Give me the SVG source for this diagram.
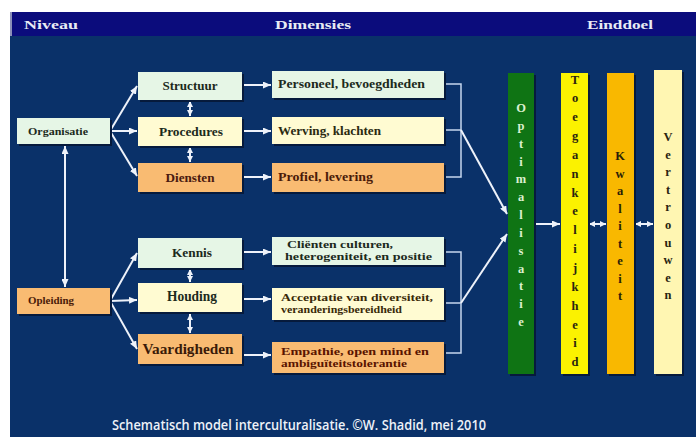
<svg xmlns="http://www.w3.org/2000/svg" width="696" height="437" viewBox="0 0 696 437">
<defs>
<style>
.hd{font-family:"Liberation Serif","Times New Roman",serif;font-weight:bold;font-size:13.5px;fill:#e8ecf4}
.t{font-family:"Liberation Serif","Times New Roman",serif;font-weight:bold;fill:#1c2a1c}
.sh{fill:#061a3c}
.g{fill:#e6f6e6}
.y{fill:#fffbd2}
.o{fill:#f9bb72}
.ln{stroke:#eef2fa;stroke-width:2;fill:none}
.br{stroke:#c6d6ee;stroke-width:1.5;fill:none}
.vl{font-family:"Liberation Serif","Times New Roman",serif;font-weight:bold;font-size:12.5px;text-anchor:middle}
</style>
<marker id="ah" markerUnits="userSpaceOnUse" viewBox="0 0 8 7" refX="8" refY="3.5" markerWidth="8" markerHeight="7" orient="auto-start-reverse">
<path d="M0,0 L8,3.5 L0,7 z" fill="#eef2fa"/>
</marker>
<marker id="as" markerUnits="userSpaceOnUse" viewBox="0 0 6 6" refX="6" refY="3" markerWidth="6" markerHeight="6" orient="auto-start-reverse">
<path d="M0,0 L6,3 L0,6 z" fill="#eef2fa"/>
</marker>
</defs>
<rect x="0" y="0" width="696" height="437" fill="#ffffff"/>
<rect x="10" y="12" width="686" height="425" fill="#0a3169"/>
<rect x="10" y="12" width="686" height="24" fill="#0b0c7c"/>
<rect x="10" y="12" width="2" height="24" fill="#8c90b8"/>
<text class="hd" x="24" y="29" textLength="54" lengthAdjust="spacingAndGlyphs">Niveau</text>
<text class="hd" x="275" y="29" textLength="76" lengthAdjust="spacingAndGlyphs">Dimensies</text>
<text class="hd" x="587" y="29" textLength="66" lengthAdjust="spacingAndGlyphs">Einddoel</text>

<g id="connectors">
<path class="ln" d="M110,131 L137,86" marker-end="url(#ah)"/>
<path class="ln" d="M110,131 L137,131" marker-end="url(#ah)"/>
<path class="ln" d="M110,131 L137,176" marker-end="url(#ah)"/>
<path class="ln" d="M110,301 L137,253" marker-end="url(#ah)"/>
<path class="ln" d="M110,301 L137,300" marker-end="url(#ah)"/>
<path class="ln" d="M110,301 L137,349" marker-end="url(#ah)"/>
<path class="ln" d="M65,146 L65,287" marker-start="url(#ah)" marker-end="url(#ah)"/>
<path class="ln" d="M190,101 L190,116" marker-start="url(#as)" marker-end="url(#as)"/>
<path class="ln" d="M190,147 L190,162" marker-start="url(#as)" marker-end="url(#as)"/>
<path class="ln" d="M190,269 L190,282" marker-start="url(#as)" marker-end="url(#as)"/>
<path class="ln" d="M190,314 L190,333" marker-start="url(#as)" marker-end="url(#as)"/>
<path class="ln" d="M243,85 L271,85" marker-end="url(#ah)"/>
<path class="ln" d="M243,131 L271,131" marker-end="url(#ah)"/>
<path class="ln" d="M243,177 L271,177" marker-end="url(#ah)"/>
<path class="ln" d="M243,252 L271,252" marker-end="url(#ah)"/>
<path class="ln" d="M243,299 L271,299" marker-end="url(#ah)"/>
<path class="ln" d="M243,355 L271,355" marker-end="url(#ah)"/>
<path class="br" d="M445,84 L461,84 L461,177 L445,177 M445,130 L461,130"/>
<path class="br" d="M445,252 L461,252 L461,353 L445,353 M445,303 L461,303"/>
<path class="ln" d="M461,130 L507,214" marker-end="url(#ah)"/>
<path class="ln" d="M461,303 L507,234" marker-end="url(#ah)"/>
<path class="ln" d="M535,224 L560,224" marker-end="url(#ah)"/>
<path class="ln" d="M589,224 L606,224" marker-start="url(#as)" marker-end="url(#as)"/>
<path class="ln" d="M635,224 L653,224" marker-start="url(#as)" marker-end="url(#as)"/>
</g>

<g id="organisatie">
<rect class="sh" x="19" y="120" width="93" height="26"/>
<rect class="g" x="17" y="118" width="93" height="26"/>
<text class="t" x="28" y="135" font-size="11" textLength="60" lengthAdjust="spacingAndGlyphs" fill="#1a3a1a">Organisatie</text>
</g>
<g id="opleiding">
<rect class="sh" x="19" y="290" width="93" height="26"/>
<rect class="o" x="17" y="288" width="93" height="26"/>
<text class="t" x="28" y="304" font-size="11" textLength="46" lengthAdjust="spacingAndGlyphs" style="fill:#4a1a08">Opleiding</text>
</g>

<g id="structuur">
<rect class="sh" x="140" y="74" width="104" height="28"/>
<rect class="g" x="138" y="72" width="104" height="28"/>
<text class="t" x="190" y="90" font-size="12.5" text-anchor="middle" textLength="55" lengthAdjust="spacingAndGlyphs">Structuur</text>
</g>
<g id="procedures">
<rect class="sh" x="140" y="119" width="104" height="29"/>
<rect class="y" x="138" y="117" width="104" height="29"/>
<text class="t" x="191" y="136" font-size="13.5" text-anchor="middle" textLength="64" lengthAdjust="spacingAndGlyphs">Procedures</text>
</g>
<g id="diensten">
<rect class="sh" x="140" y="165" width="104" height="29"/>
<rect class="o" x="138" y="163" width="104" height="29"/>
<text class="t" x="190" y="182" font-size="12.5" text-anchor="middle" textLength="49" lengthAdjust="spacingAndGlyphs" style="fill:#4a1a10">Diensten</text>
</g>
<g id="kennis">
<rect class="sh" x="140" y="240" width="104" height="30"/>
<rect class="g" x="138" y="238" width="104" height="30"/>
<text class="t" x="192" y="257" font-size="13" text-anchor="middle" textLength="40" lengthAdjust="spacingAndGlyphs">Kennis</text>
</g>
<g id="houding">
<rect class="sh" x="140" y="285" width="104" height="29"/>
<rect class="y" x="138" y="283" width="104" height="29"/>
<text class="t" x="192" y="301" font-size="14.5" text-anchor="middle" textLength="50" lengthAdjust="spacingAndGlyphs">Houding</text>
</g>
<g id="vaardigheden">
<rect class="sh" x="140" y="336" width="104" height="30"/>
<rect class="o" x="138" y="334" width="104" height="30"/>
<text class="t" x="188" y="354" font-size="14.5" text-anchor="middle" textLength="91" lengthAdjust="spacingAndGlyphs" style="fill:#3a1a08">Vaardigheden</text>
</g>

<g id="personeel">
<rect class="sh" x="274" y="73" width="172" height="27"/>
<rect class="g" x="272" y="71" width="172" height="27"/>
<text class="t" x="278" y="88" font-size="12.5" textLength="147" lengthAdjust="spacingAndGlyphs">Personeel, bevoegdheden</text>
</g>
<g id="werving">
<rect class="sh" x="274" y="119" width="172" height="27"/>
<rect class="y" x="272" y="117" width="172" height="27"/>
<text class="t" x="278" y="135" font-size="12.5" textLength="103" lengthAdjust="spacingAndGlyphs" style="fill:#2a2a10">Werving, klachten</text>
</g>
<g id="profiel">
<rect class="sh" x="274" y="165" width="172" height="29"/>
<rect class="o" x="272" y="163" width="172" height="29"/>
<text class="t" x="278" y="181" font-size="12.5" textLength="95" lengthAdjust="spacingAndGlyphs" style="fill:#4a1a08">Profiel, levering</text>
</g>
<g id="clienten">
<rect class="sh" x="274" y="239" width="172" height="28"/>
<rect class="g" x="272" y="237" width="172" height="28"/>
<text class="t" font-size="10.5"><tspan x="287" y="248" textLength="106" lengthAdjust="spacingAndGlyphs">Cliënten culturen,</tspan><tspan x="285" y="260" textLength="147" lengthAdjust="spacingAndGlyphs">heterogeniteit, en positie</tspan></text>
</g>
<g id="acceptatie">
<rect class="sh" x="274" y="290" width="172" height="32"/>
<rect class="y" x="272" y="288" width="172" height="32"/>
<text class="t" font-size="10.5" style="fill:#3a2a08"><tspan x="281" y="301" textLength="152" lengthAdjust="spacingAndGlyphs">Acceptatie van diversiteit,</tspan><tspan x="281" y="313" textLength="121" lengthAdjust="spacingAndGlyphs">veranderingsbereidheid</tspan></text>
</g>
<g id="empathie">
<rect class="sh" x="274" y="344" width="172" height="31"/>
<rect class="o" x="272" y="342" width="172" height="31"/>
<text class="t" font-size="10.5" style="fill:#5a1400"><tspan x="281" y="355" textLength="148" lengthAdjust="spacingAndGlyphs">Empathie,  open mind en</tspan><tspan x="281" y="367" textLength="126" lengthAdjust="spacingAndGlyphs">ambiguïteitstolerantie</tspan></text>
</g>

<g id="optimalisatie">
<rect class="sh" x="510" y="75" width="26" height="301"/>
<rect x="508" y="73" width="26" height="301" fill="#0f7414"/>
<text class="vl" fill="#dcf0d0"><tspan x="521" y="112">O</tspan><tspan x="521" y="130">p</tspan><tspan x="521" y="148">t</tspan><tspan x="521" y="166">i</tspan><tspan x="521" y="183">m</tspan><tspan x="521" y="201">a</tspan><tspan x="521" y="219">l</tspan><tspan x="521" y="237">i</tspan><tspan x="521" y="255">s</tspan><tspan x="521" y="273">a</tspan><tspan x="521" y="290">t</tspan><tspan x="521" y="308">i</tspan><tspan x="521" y="326">e</tspan></text>
</g>
<g id="toegankelijkheid">
<rect class="sh" x="563" y="75" width="27" height="301"/>
<rect x="561" y="73" width="27" height="301" fill="#fbf200"/>
<text class="vl" fill="#2a2410"><tspan x="575" y="84">T</tspan><tspan x="575" y="102">o</tspan><tspan x="575" y="121">e</tspan><tspan x="575" y="140">g</tspan><tspan x="575" y="159">a</tspan><tspan x="575" y="178">n</tspan><tspan x="575" y="197">k</tspan><tspan x="575" y="215">e</tspan><tspan x="575" y="234">l</tspan><tspan x="575" y="253">i</tspan><tspan x="575" y="272">j</tspan><tspan x="575" y="291">k</tspan><tspan x="575" y="310">h</tspan><tspan x="575" y="329">e</tspan><tspan x="575" y="347">i</tspan><tspan x="575" y="366">d</tspan></text>
</g>
<g id="kwaliteit">
<rect class="sh" x="609" y="75" width="27" height="301"/>
<rect x="607" y="73" width="27" height="301" fill="#f9b800"/>
<text class="vl" fill="#2a1e08"><tspan x="620" y="160">K</tspan><tspan x="620" y="178">w</tspan><tspan x="620" y="195">a</tspan><tspan x="620" y="213">l</tspan><tspan x="620" y="230">i</tspan><tspan x="620" y="248">t</tspan><tspan x="620" y="265">e</tspan><tspan x="620" y="283">i</tspan><tspan x="620" y="300">t</tspan></text>
</g>
<g id="vertrouwen">
<rect class="sh" x="656" y="72" width="28" height="304"/>
<rect x="654" y="70" width="28" height="304" fill="#fff6b2"/>
<text class="vl" fill="#2a2410"><tspan x="668" y="141">V</tspan><tspan x="668" y="159">e</tspan><tspan x="668" y="176">r</tspan><tspan x="668" y="194">t</tspan><tspan x="668" y="211">r</tspan><tspan x="668" y="229">o</tspan><tspan x="668" y="247">u</tspan><tspan x="668" y="264">w</tspan><tspan x="668" y="282">e</tspan><tspan x="668" y="299">n</tspan></text>
</g>

<text x="112" y="430" font-family="'Open Sans','DejaVu Sans',sans-serif" font-weight="600" font-size="13.5" fill="#eef2f8" textLength="374" lengthAdjust="spacingAndGlyphs">Schematisch model interculturalisatie. ©W. Shadid, mei 2010</text>
</svg>
